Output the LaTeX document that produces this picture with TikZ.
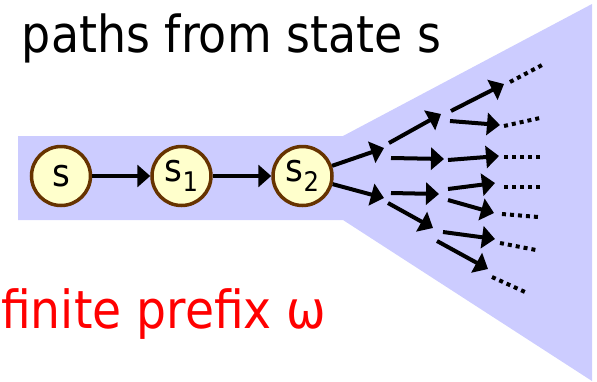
\documentclass[tikz,border=0pt]{standalone}
\usepackage{fontspec}
\usetikzlibrary{arrows.meta}
\newfontfamily\lab[FakeStretch=0.9]{DejaVu Sans}
\definecolor{bandblue}{HTML}{CCCCFF}
\definecolor{statefill}{HTML}{FFFFCC}
\definecolor{statedraw}{HTML}{663300}
\begin{document}
\begin{tikzpicture}[x=1pt,y=-1pt,
  state/.style={circle,draw=statedraw,fill=statefill,line width=3.5pt,minimum size=59pt,inner sep=0pt,font=\lab\fontsize{38}{38}\selectfont},
  arr/.style={line width=4pt,-{Triangle[length=13pt,width=22pt]}},
  dots/.style={line width=4pt,dash pattern=on 4pt off 4pt},
  title/.style={inner sep=0pt,anchor=base west,font=\lab\fontsize{51}{51}\selectfont}]
\useasboundingbox (0,0) rectangle (597,381);
\fill[bandblue] (18,136) -- (343,136) -- (592,4) -- (592,381) -- (343,220) -- (18,220) -- cycle;
\node[title] (top) at (-26,52) {e\hspace{5pt} paths from state s};
\node[title,text=red,font=\lab\fontsize{52.5}{52.5}\selectfont] (pre) at (1,328) {finite prefix ω};
\node[state] (s) at (61,176) {s};
\node[state] (s1) at (181.5,176) {s\raisebox{-10pt}{\fontsize{27}{27}\selectfont 1}};
\node[state] (s2) at (302.5,176) {s\raisebox{-10pt}{\fontsize{27}{27}\selectfont 2}};
\draw[arr] (s) -- (s1);
\draw[arr] (s1) -- (s2);
% tips of first level
\coordinate (a1) at (384,148);
\coordinate (a2) at (384,198);
\draw[arr] (s2) -- (a1);
\draw[arr] (s2) -- (a2);
% second level
\coordinate (b1s) at (389,143); \coordinate (b1) at (441,114);
\coordinate (b2s) at (391,158); \coordinate (b2) at (444,159);
\coordinate (b3s) at (391,193); \coordinate (b3) at (439,194);
\coordinate (b4s) at (388,203); \coordinate (b4) at (433,228);
\draw[arr] (b1s) -- (b1);
\draw[arr] (b2s) -- (b2);
\draw[arr] (b3s) -- (b3);
\draw[arr] (b4s) -- (b4);
% third level
\coordinate (c1s) at (451,111); \coordinate (c1) at (504,84);
\coordinate (c2s) at (450,121); \coordinate (c2) at (500,125);
\coordinate (c3s) at (448,160); \coordinate (c3) at (499,156);
\coordinate (c4s) at (448,189); \coordinate (c4) at (495,183);
\coordinate (c5s) at (448,200); \coordinate (c5) at (494,213);
\coordinate (c6s) at (443,232); \coordinate (c6) at (495,239);
\coordinate (c7s) at (437,241); \coordinate (c7) at (488,269);
\draw[arr] (c1s) -- (c1);
\draw[arr] (c2s) -- (c2);
\draw[arr] (c3s) -- (c3);
\draw[arr] (c4s) -- (c4);
\draw[arr] (c5s) -- (c5);
\draw[arr] (c6s) -- (c6);
\draw[arr] (c7s) -- (c7);
% continuation dots
\coordinate (d1s) at (510,82);  \coordinate (d1) at (544,64);
\coordinate (d2s) at (504,126); \coordinate (d2) at (540,118);
\coordinate (d3s) at (504,157); \coordinate (d3) at (540,157);
\coordinate (d4s) at (504,187); \coordinate (d4) at (540,187);
\coordinate (d5s) at (502,214); \coordinate (d5) at (538,217);
\coordinate (d6s) at (500,243); \coordinate (d6) at (536,250);
\coordinate (d7s) at (492,277); \coordinate (d7) at (525,292);
\draw[dots] (d1s) -- (d1);
\draw[dots] (d2s) -- (d2);
\draw[dots] (d3s) -- (d3);
\draw[dots] (d4s) -- (d4);
\draw[dots] (d5s) -- (d5);
\draw[dots] (d6s) -- (d6);
\draw[dots] (d7s) -- (d7);
\end{tikzpicture}
\end{document}
